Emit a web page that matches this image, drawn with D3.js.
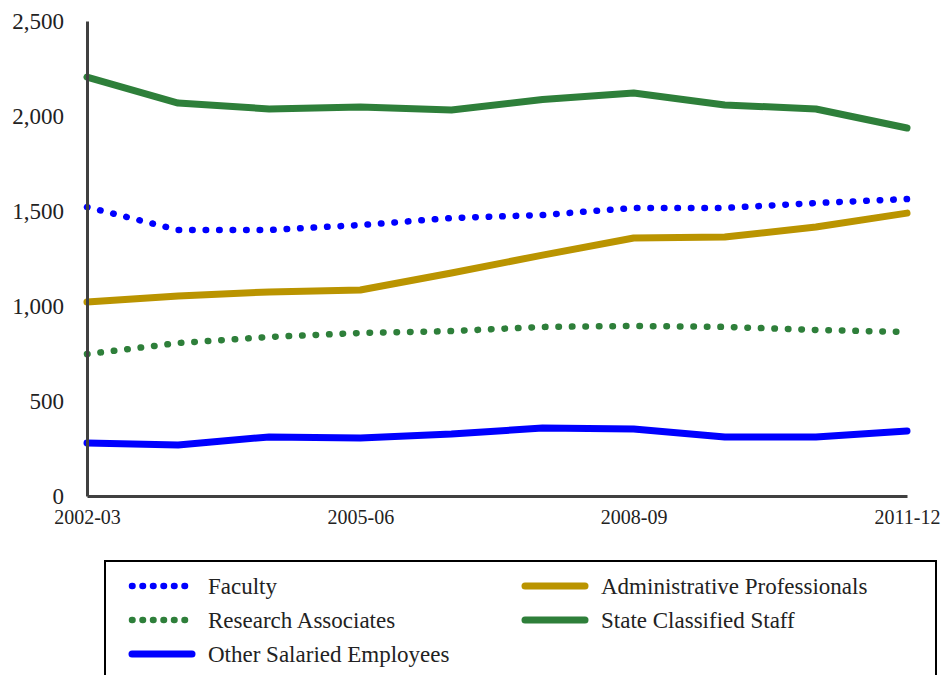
<!DOCTYPE html>
<html>
<head>
<meta charset="utf-8">
<script src="https://cdn.jsdelivr.net/npm/d3@7"></script>
<style>
  body { margin: 0; background: #fff; }
</style>
</head>
<body>
<div id="chart"></div>
<script>
// data
var years = ["2002-03","2003-04","2004-05","2005-06","2006-07","2007-08","2008-09","2009-10","2010-11","2011-12"];
var tickYears = ["2002-03","2005-06","2008-09","2011-12"];
var faculty = [1521, 1400, 1400, 1426, 1463, 1479, 1516, 1516, 1542, 1563];
var research = [747, 805, 837, 858, 868, 890, 895, 890, 874, 863];
var otherSalaried = [279, 268, 311, 305, 326, 358, 353, 311, 311, 342];
var adminPro = [1021, 1053, 1074, 1084, 1174, 1268, 1358, 1363, 1416, 1489];
var stateClassified = [2205, 2068, 2037, 2047, 2032, 2087, 2121, 2058, 2037, 1937];

var series = [
  {name: "Faculty", values: faculty, color: "#0000FF", dotted: true},
  {name: "Administrative Professionals", values: adminPro, color: "#BA9400", dotted: false},
  {name: "Research Associates", values: research, color: "#2E7F3A", dotted: true},
  {name: "State Classified Staff", values: stateClassified, color: "#2E7F3A", dotted: false},
  {name: "Other Salaried Employees", values: otherSalaried, color: "#0000FF", dotted: false}
];

var serif = "Liberation Serif";

var W = 945, H = 675;
var margin = {top: 21, right: 38, bottom: 179, left: 87},
    width = W - margin.left - margin.right,
    height = H - margin.top - margin.bottom;

var svg = d3.select("#chart")
  .append("svg")
  .attr("width", W)
  .attr("height", H)
  .attr("font-family", serif);

var g = svg.append("g")
  .attr("transform", "translate(" + margin.left + "," + margin.top + ")");

var x = d3.scalePoint()
  .domain(years)
  .range([0, width]);

var y = d3.scaleLinear()
  .domain([0, 2500])
  .range([height, 0]);

// lines first, axes over them
var line = d3.line()
  .x(function(d, i) { return x(years[i]); })
  .y(function(d) { return y(d); });

series.forEach(function(s) {
  g.append("path")
    .datum(s.values)
    .attr("fill", "none")
    .attr("stroke", s.color)
    .attr("stroke-width", s.dotted ? 6.5 : 7)
    .attr("stroke-linecap", "round")
    .attr("stroke-linejoin", "round")
    .attr("stroke-dasharray", s.dotted ? "0.5,13" : null)
    .attr("d", line);
});

// Y axis
var yAxis = g.append("g")
  .call(d3.axisLeft(y).tickValues([0, 500, 1000, 1500, 2000, 2500])
    .tickSize(0).tickPadding(23).tickFormat(d3.format(",")));
yAxis.selectAll("text").attr("font-size", 23);

// X axis
var xAxis = g.append("g")
  .attr("transform", "translate(0," + height + ")")
  .call(d3.axisBottom(x).tickValues(tickYears).tickSize(0).tickPadding(14));
xAxis.selectAll("text").attr("font-size", 20);

[xAxis, yAxis].forEach(function(a) {
  a.attr("font-family", serif).attr("font-size", null);
  a.select(".domain").attr("stroke", "#404040").attr("stroke-width", 3);
  a.selectAll("text").attr("fill", "#222").attr("font-family", serif);
});

// Legend
var legend = svg.append("g");
legend.append("rect")
  .attr("x", 105).attr("y", 561)
  .attr("width", 831).attr("height", 125)
  .attr("fill", "none")
  .attr("stroke", "#000")
  .attr("stroke-width", 2);

var legendPos = [
  {x: 129, y: 586}, {x: 522, y: 586},
  {x: 129, y: 620}, {x: 522, y: 620},
  {x: 129, y: 654}
];

series.forEach(function(s, i) {
  var p = legendPos[i];
  legend.append("line")
    .attr("x1", p.x + 3).attr("x2", p.x + 63)
    .attr("y1", p.y).attr("y2", p.y)
    .attr("stroke", s.color)
    .attr("stroke-width", s.dotted ? 6.5 : 7)
    .attr("stroke-linecap", "round")
    .attr("stroke-dasharray", s.dotted ? "0.5,10" : null);
  legend.append("text")
    .attr("x", p.x + 79)
    .attr("y", p.y)
    .attr("dy", "0.35em")
    .attr("font-family", serif)
    .attr("font-size", 23)
    .attr("fill", "#222")
    .text(s.name);
});
</script>
</body>
</html>
